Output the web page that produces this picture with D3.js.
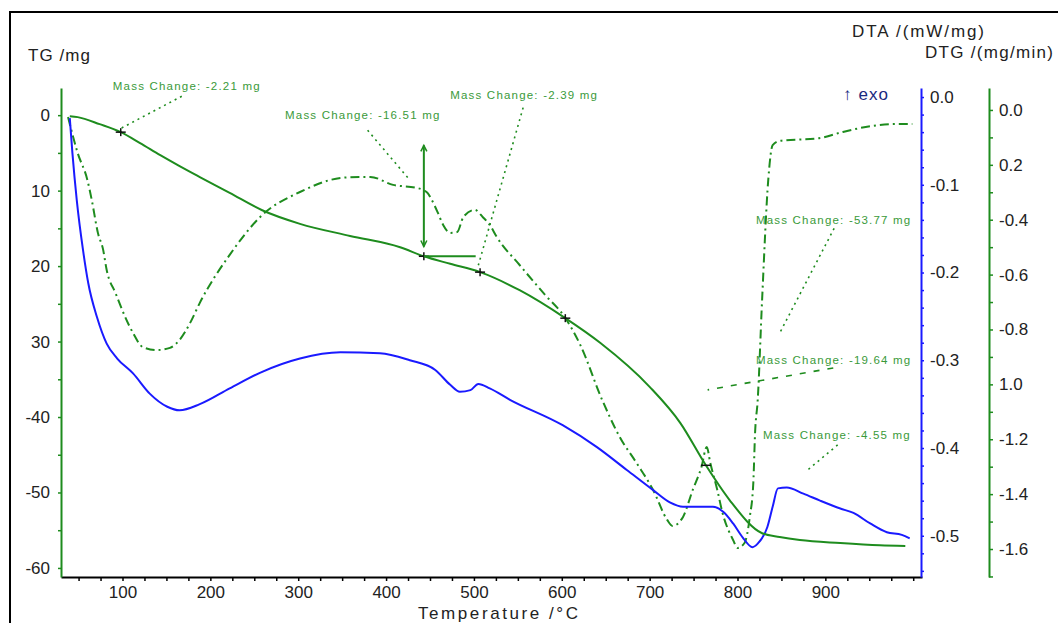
<!doctype html>
<html>
<head>
  <meta charset="utf-8">
  <script src="https://d3js.org/d3.v7.min.js"></script>
  <style>
    body { margin: 0; background: #fff; }
    svg { display: block; font-family: "Liberation Sans", Arial, sans-serif; }
    .tick text { font-size: 17px; fill: #222; }
    .note { font-size: 11.5px; fill: #3a9a3a; letter-spacing: 1.2px; }
  </style>
</head>
<body>
<script>
  // TG curve (temperature /°C, mass change /mg)
  var tgTemp = [40, 49, 74, 98, 120, 143, 165, 188, 222, 259, 302, 359, 416, 443, 473, 507, 552, 604, 644, 700, 735, 764, 791, 828, 848, 871, 917, 962, 991];
  var tgMass = [-0.13, -0.26, -1.19, -2.25, -3.7, -5.3, -6.75, -8.2, -10.3, -12.6, -14.4, -16.0, -17.5, -18.7, -19.7, -20.8, -23.2, -26.9, -30.2, -36.0, -40.8, -46.4, -51.0, -55.4, -55.9, -56.3, -56.7, -57.0, -57.1];

  // DTA curve (mW/mg)
  var dtaTemp = [40, 43, 48, 55, 61, 71, 82, 94, 112, 131, 151, 165, 188, 222, 257, 302, 348, 393, 427, 456, 473, 484, 496, 505, 518, 541, 601, 640, 674, 704, 723, 738, 760, 772, 784, 795, 806, 817, 823, 834, 840, 846, 856, 875, 894, 917, 932, 951, 970, 987, 996];
  var dtaVal = [-0.024, -0.064, -0.118, -0.174, -0.212, -0.251, -0.281, -0.298, -0.315, -0.338, -0.353, -0.357, -0.350, -0.332, -0.314, -0.298, -0.291, -0.292, -0.300, -0.311, -0.328, -0.336, -0.334, -0.327, -0.332, -0.345, -0.374, -0.399, -0.425, -0.448, -0.462, -0.467, -0.467, -0.467, -0.473, -0.486, -0.502, -0.513, -0.509, -0.490, -0.467, -0.446, -0.445, -0.452, -0.460, -0.469, -0.474, -0.486, -0.496, -0.499, -0.503];

  // DTG curve (mg/min)
  var dtgTemp = [38, 49, 60, 65, 72, 78, 82, 92, 103, 112, 123, 139, 154, 165, 177, 188, 222, 259, 302, 348, 370, 382, 408, 435, 447, 452, 459, 465, 473, 481, 488, 501, 510, 518, 526, 552, 581, 604, 621, 646, 666, 685, 704, 720, 726, 738, 749, 759, 765, 769, 777, 783, 795, 800, 808, 814, 818, 820, 823, 828, 835, 840, 848, 894, 920, 954, 982, 999];
  var dtgVal = [-0.026, -0.157, -0.255, -0.328, -0.448, -0.510, -0.583, -0.667, -0.754, -0.813, -0.864, -0.875, -0.867, -0.838, -0.776, -0.703, -0.528, -0.383, -0.299, -0.248, -0.244, -0.244, -0.273, -0.284, -0.302, -0.328, -0.375, -0.419, -0.448, -0.445, -0.390, -0.364, -0.390, -0.419, -0.463, -0.565, -0.674, -0.758, -0.856, -1.057, -1.192, -1.286, -1.385, -1.494, -1.516, -1.483, -1.385, -1.301, -1.228, -1.286, -1.385, -1.469, -1.567, -1.596, -1.578, -1.483, -1.359, -1.177, -1.057, -0.692, -0.255, -0.128, -0.113, -0.102, -0.080, -0.058, -0.051, -0.051];

  // axis ticks and the labels as printed on the plot
  var tempTicks = [100, 200, 300, 400, 500, 600, 700, 800, 900];
  var tgTicks = [0, -10, -20, -30, -40, -50, -60];
  var tgLabels = ["0", "10", "20", "30", "-40", "-50", "-60"];
  var dtaTicks = [0, -0.1, -0.2, -0.3, -0.4, -0.5];
  var dtaLabels = ["0.0", "-0.1", "-0.2", "-0.3", "-0.4", "-0.5"];
  var dtgTicks = [0, -0.2, -0.4, -0.6, -0.8, -1.0, -1.2, -1.4, -1.6];
  var dtgLabels = ["0.0", "0.2", "-0.4", "-0.6", "-0.8", "1.0", "-1.2", "-1.4", "-1.6"];

  // mass change notes: text anchor and leader line, in TG units
  var noteText = ["Mass Change: -2.21 mg", "Mass Change: -16.51 mg", "Mass Change: -2.39 mg", "Mass Change: -53.77 mg", "Mass Change: -19.64 mg", "Mass Change: -4.55 mg"];
  var noteAt = [[89, 3.3], [285, -0.5], [473, 2.2], [821, -14.4], [821, -33.0], [829, -42.9]];
  var noteLead = [[[99, -1.7], [169, 2.6]], [[379, -2.0], [427, -8.6]], [[556, 1.0], [505, -19.9]], [[910, -15.0], [847, -29.1]], [[909, -33.5], [766, -36.4]], [[914, -43.7], [880, -47.0]]];
  var stepMarks = [[98, -2.25], [443, -18.7], [507, -20.8], [604, -26.9], [764, -46.4]];

  var green = "#1e8c1e", blue = "#1a1aff";

  var svg = d3.select("body").append("svg")
    .attr("width", 1058)
    .attr("height", 623);

  svg.append("rect")
    .attr("x", 10).attr("y", 12)
    .attr("width", 1100).attr("height", 700)
    .attr("fill", "none").attr("stroke", "#000").attr("stroke-width", 2);

  var x = d3.scaleLinear().domain([30, 1010]).range([61, 922]);
  var yTg = d3.scaleLinear().domain([-61.2, 3.6]).range([577, 88]);
  var yDta = d3.scaleLinear().domain([-0.547, 0.0103]).range([577, 88]);
  var yDtg = d3.scaleLinear().domain([-1.702, 0.080]).range([577, 88]);

  function drawAxis (g, axis, color) {
    g.call(axis);
    g.select(".domain").attr("stroke", color).attr("stroke-width", 2);
    g.selectAll(".tick line").attr("stroke", color).attr("stroke-width", 1.5);
  }

  // temperature axis
  var gx = svg.append("g").attr("transform", "translate(0,577)");
  drawAxis(gx, d3.axisBottom(x).tickValues(d3.range(50, 1001, 25)).tickSize(4).tickSizeOuter(0)
    .tickFormat(function (d) { return tempTicks.indexOf(d) >= 0 ? d : ""; }), "#000");
  gx.selectAll(".tick text").attr("dy", "0.85em");

  // TG axis
  var gTg = svg.append("g").attr("transform", "translate(61,0)");
  drawAxis(gTg, d3.axisLeft(yTg).tickValues(d3.range(0, -61, -5)).tickSize(3).tickSizeOuter(0)
    .tickFormat(function (d) { var i = tgTicks.indexOf(d); return i >= 0 ? tgLabels[i] : ""; }), green);
  gTg.selectAll(".tick text").attr("x", -11);

  // DTA axis
  var gDta = svg.append("g").attr("transform", "translate(921,0)");
  drawAxis(gDta, d3.axisRight(yDta).tickValues(d3.range(0, -0.541, -0.02).map(function (d) { return +d.toFixed(2); }))
    .tickSize(3).tickSizeOuter(0)
    .tickFormat(function (d) { var i = dtaTicks.indexOf(d); return i >= 0 ? dtaLabels[i] : ""; }), blue);
  gDta.selectAll(".tick text").attr("x", 9);

  // DTG axis
  var gDtg = svg.append("g").attr("transform", "translate(989,0)");
  drawAxis(gDtg, d3.axisRight(yDtg).tickValues(d3.range(0, -1.701, -0.1).map(function (d) { return +d.toFixed(1); }))
    .tickSize(4).tickSizeOuter(0)
    .tickFormat(function (d) { var i = dtgTicks.indexOf(d); return i >= 0 ? dtgLabels[i] : ""; }), green);
  gDtg.selectAll(".tick text").attr("x", 10);

  // curves
  function series (ts, vs, yScale) {
    return d3.line()
      .x(function (d, i) { return x(ts[i]); })
      .y(function (d, i) { return yScale(vs[i]); })
      .curve(d3.curveMonotoneX)(ts);
  }

  svg.append("path")
    .attr("d", series(dtgTemp, dtgVal, yDtg))
    .attr("fill", "none").attr("stroke", green).attr("stroke-width", 2)
    .attr("stroke-dasharray", "9,4,2,4");

  svg.append("path")
    .attr("d", series(dtaTemp, dtaVal, yDta))
    .attr("fill", "none").attr("stroke", blue).attr("stroke-width", 2);

  svg.append("path")
    .attr("d", series(tgTemp, tgMass, yTg))
    .attr("fill", "none").attr("stroke", green).attr("stroke-width", 2);

  // step evaluation marks
  stepMarks.forEach(function (m, i) {
    var cx = x(m[0]), cy = yTg(m[1]);
    svg.append("line").attr("x1", cx - 5).attr("x2", cx + 5).attr("y1", cy).attr("y2", cy)
      .attr("stroke", "#111").attr("stroke-width", 1.5);
    if (i < 4) {
      svg.append("line").attr("x1", cx).attr("x2", cx).attr("y1", cy - 4).attr("y2", cy + 4)
        .attr("stroke", "#111").attr("stroke-width", 1.5);
    }
  });

  // step height arrow at 443 °C
  var ax = x(443);
  svg.append("line").attr("x1", ax).attr("x2", ax).attr("y1", yTg(-4.0)).attr("y2", yTg(-17.4))
    .attr("stroke", green).attr("stroke-width", 2);
  svg.append("path")
    .attr("d", "M" + (ax - 3) + "," + (yTg(-4.0) + 6) + "L" + ax + "," + yTg(-4.0) + "L" + (ax + 3) + "," + (yTg(-4.0) + 6))
    .attr("fill", "none").attr("stroke", green).attr("stroke-width", 1.5);
  svg.append("path")
    .attr("d", "M" + (ax - 3) + "," + (yTg(-17.4) - 6) + "L" + ax + "," + yTg(-17.4) + "L" + (ax + 3) + "," + (yTg(-17.4) - 6))
    .attr("fill", "none").attr("stroke", green).attr("stroke-width", 1.5);
  svg.append("line").attr("x1", ax).attr("x2", x(502)).attr("y1", yTg(-18.7)).attr("y2", yTg(-18.7))
    .attr("stroke", green).attr("stroke-width", 2);

  // mass change notes
  noteText.forEach(function (t, i) {
    svg.append("text").attr("class", "note")
      .attr("x", x(noteAt[i][0])).attr("y", yTg(noteAt[i][1]))
      .text(t);
    var l = noteLead[i];
    svg.append("line")
      .attr("x1", x(l[0][0])).attr("y1", yTg(l[0][1]))
      .attr("x2", x(l[1][0])).attr("y2", yTg(l[1][1]))
      .attr("stroke", green).attr("stroke-width", 1.6)
      .attr("stroke-dasharray", i === 4 ? "6,8" : "2,4");
  });

  // titles
  function title (tx, ty, len, t, color) {
    return svg.append("text").attr("x", tx).attr("y", ty).attr("font-size", 17)
      .attr("fill", color || "#222")
      .attr("textLength", len).attr("lengthAdjust", "spacing")
      .text(t);
  }
  title(28, 61, 62, "TG /mg");
  title(852, 37, 132, "DTA /(mW/mg)");
  title(925, 58, 128, "DTG /(mg/min)");
  title(843, 100, 45, "\u2191 exo", "#1a2a80");
  title(418, 619, 160, "Temperature /\u00b0C");
</script>
</body>
</html>
